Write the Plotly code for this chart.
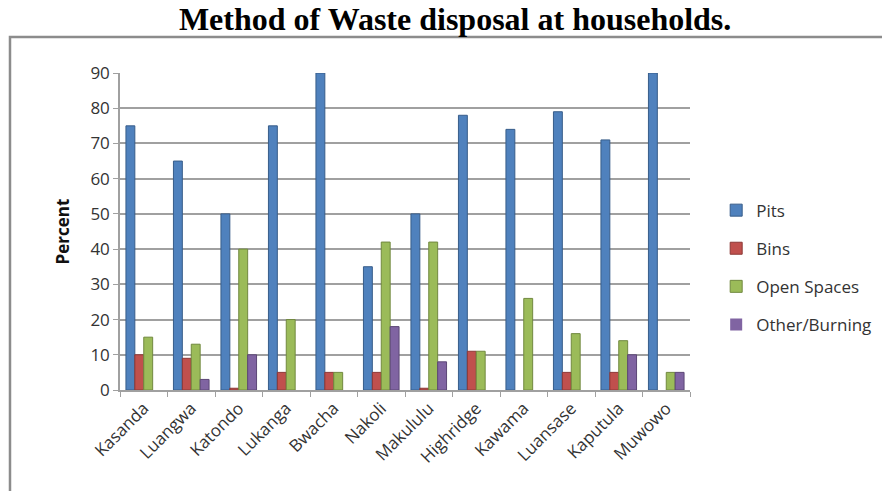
import plotly.graph_objects as go

# Survey results: share of households by waste disposal method
sites = ["Kasanda", "Luangwa", "Katondo", "Lukanga", "Bwacha", "Nakoli",
         "Makululu", "Highridge", "Kawama", "Luansase", "Kaputula", "Muwowo"]
pits = [75, 65, 50, 75, 90, 35, 50, 78, 74, 79, 71, 90]
bins = [10, 9, 0.5, 5, 5, 5, 0.5, 11, 0, 5, 5, 0]
open_spaces = [15, 13, 40, 20, 5, 42, 42, 11, 26, 16, 14, 5]
other_burning = [0, 3, 10, 0, 0, 18, 8, 0, 0, 0, 10, 5]

series = [
    ("Pits", pits, "#4F81BD", "#385D8A"),
    ("Bins", bins, "#C0504D", "#8C3836"),
    ("Open Spaces", open_spaces, "#9BBB59", "#71893F"),
    ("Other/Burning", other_burning, "#8064A2", "#5C4776"),
]

fig = go.Figure()
for name, vals, color, edge in series:
    # no outline on empty bars so zero values leave no stub on the floor
    edge_w = [1 if v > 0 else 0 for v in vals]
    fig.add_trace(go.Bar(
        x=sites, y=vals, name=name, legendgroup=name,
        marker=dict(color=color, line=dict(color=edge, width=edge_w)),
    ))

FONT = "Open Sans"
fig.update_layout(
    width=882, height=491,
    margin=dict(l=120, r=192, t=73, b=101),
    paper_bgcolor="white", plot_bgcolor="white",
    barmode="group", bargap=0.25, bargroupgap=0,
    title=dict(text="<b>Method of Waste disposal at households.</b>",
               x=0.516, xanchor="center", y=0.962, yanchor="middle",
               font=dict(family="Liberation Serif", size=32, color="black")),
    legend=dict(xref="container", yref="container", x=0.812, y=0.455,
                xanchor="left", yanchor="middle",
                traceorder="grouped", tracegroupgap=13,
                font=dict(family=FONT, size=17, color="#333333"),
                bgcolor="rgba(0,0,0,0)"),
    showlegend=True,
    font=dict(family=FONT, color="#333333"),
)

fig.update_yaxes(
    range=[0, 90], dtick=10, showgrid=True, gridcolor="#A0A0A0", gridwidth=1.5,
    showline=True, linecolor="#A0A0A0", linewidth=1.5,
    ticks="outside", ticklen=5, tickcolor="#A0A0A0",
    tickfont=dict(family=FONT, size=17, color="#333333"),
    title=dict(text="<b>Percent</b>", font=dict(family=FONT, size=17, color="#111111"),
               standoff=16),
    zeroline=False,
)
fig.update_xaxes(
    showline=True, linecolor="#A0A0A0", linewidth=1.5,
    ticks="outside", ticklen=5, tickcolor="#A0A0A0", tickson="boundaries",
    tickangle=-45, tickfont=dict(family=FONT, size=17, color="#333333"),
)

# Outer chart frame, running off the right and bottom edges
fig.add_shape(type="rect", xref="paper", yref="paper",
              x0=-0.193, x1=1.5, y0=-0.5, y1=1.1136,
              line=dict(color="#8C8C8C", width=2.5), fillcolor="rgba(0,0,0,0)",
              layer="below")

fig.write_html("out.html")
